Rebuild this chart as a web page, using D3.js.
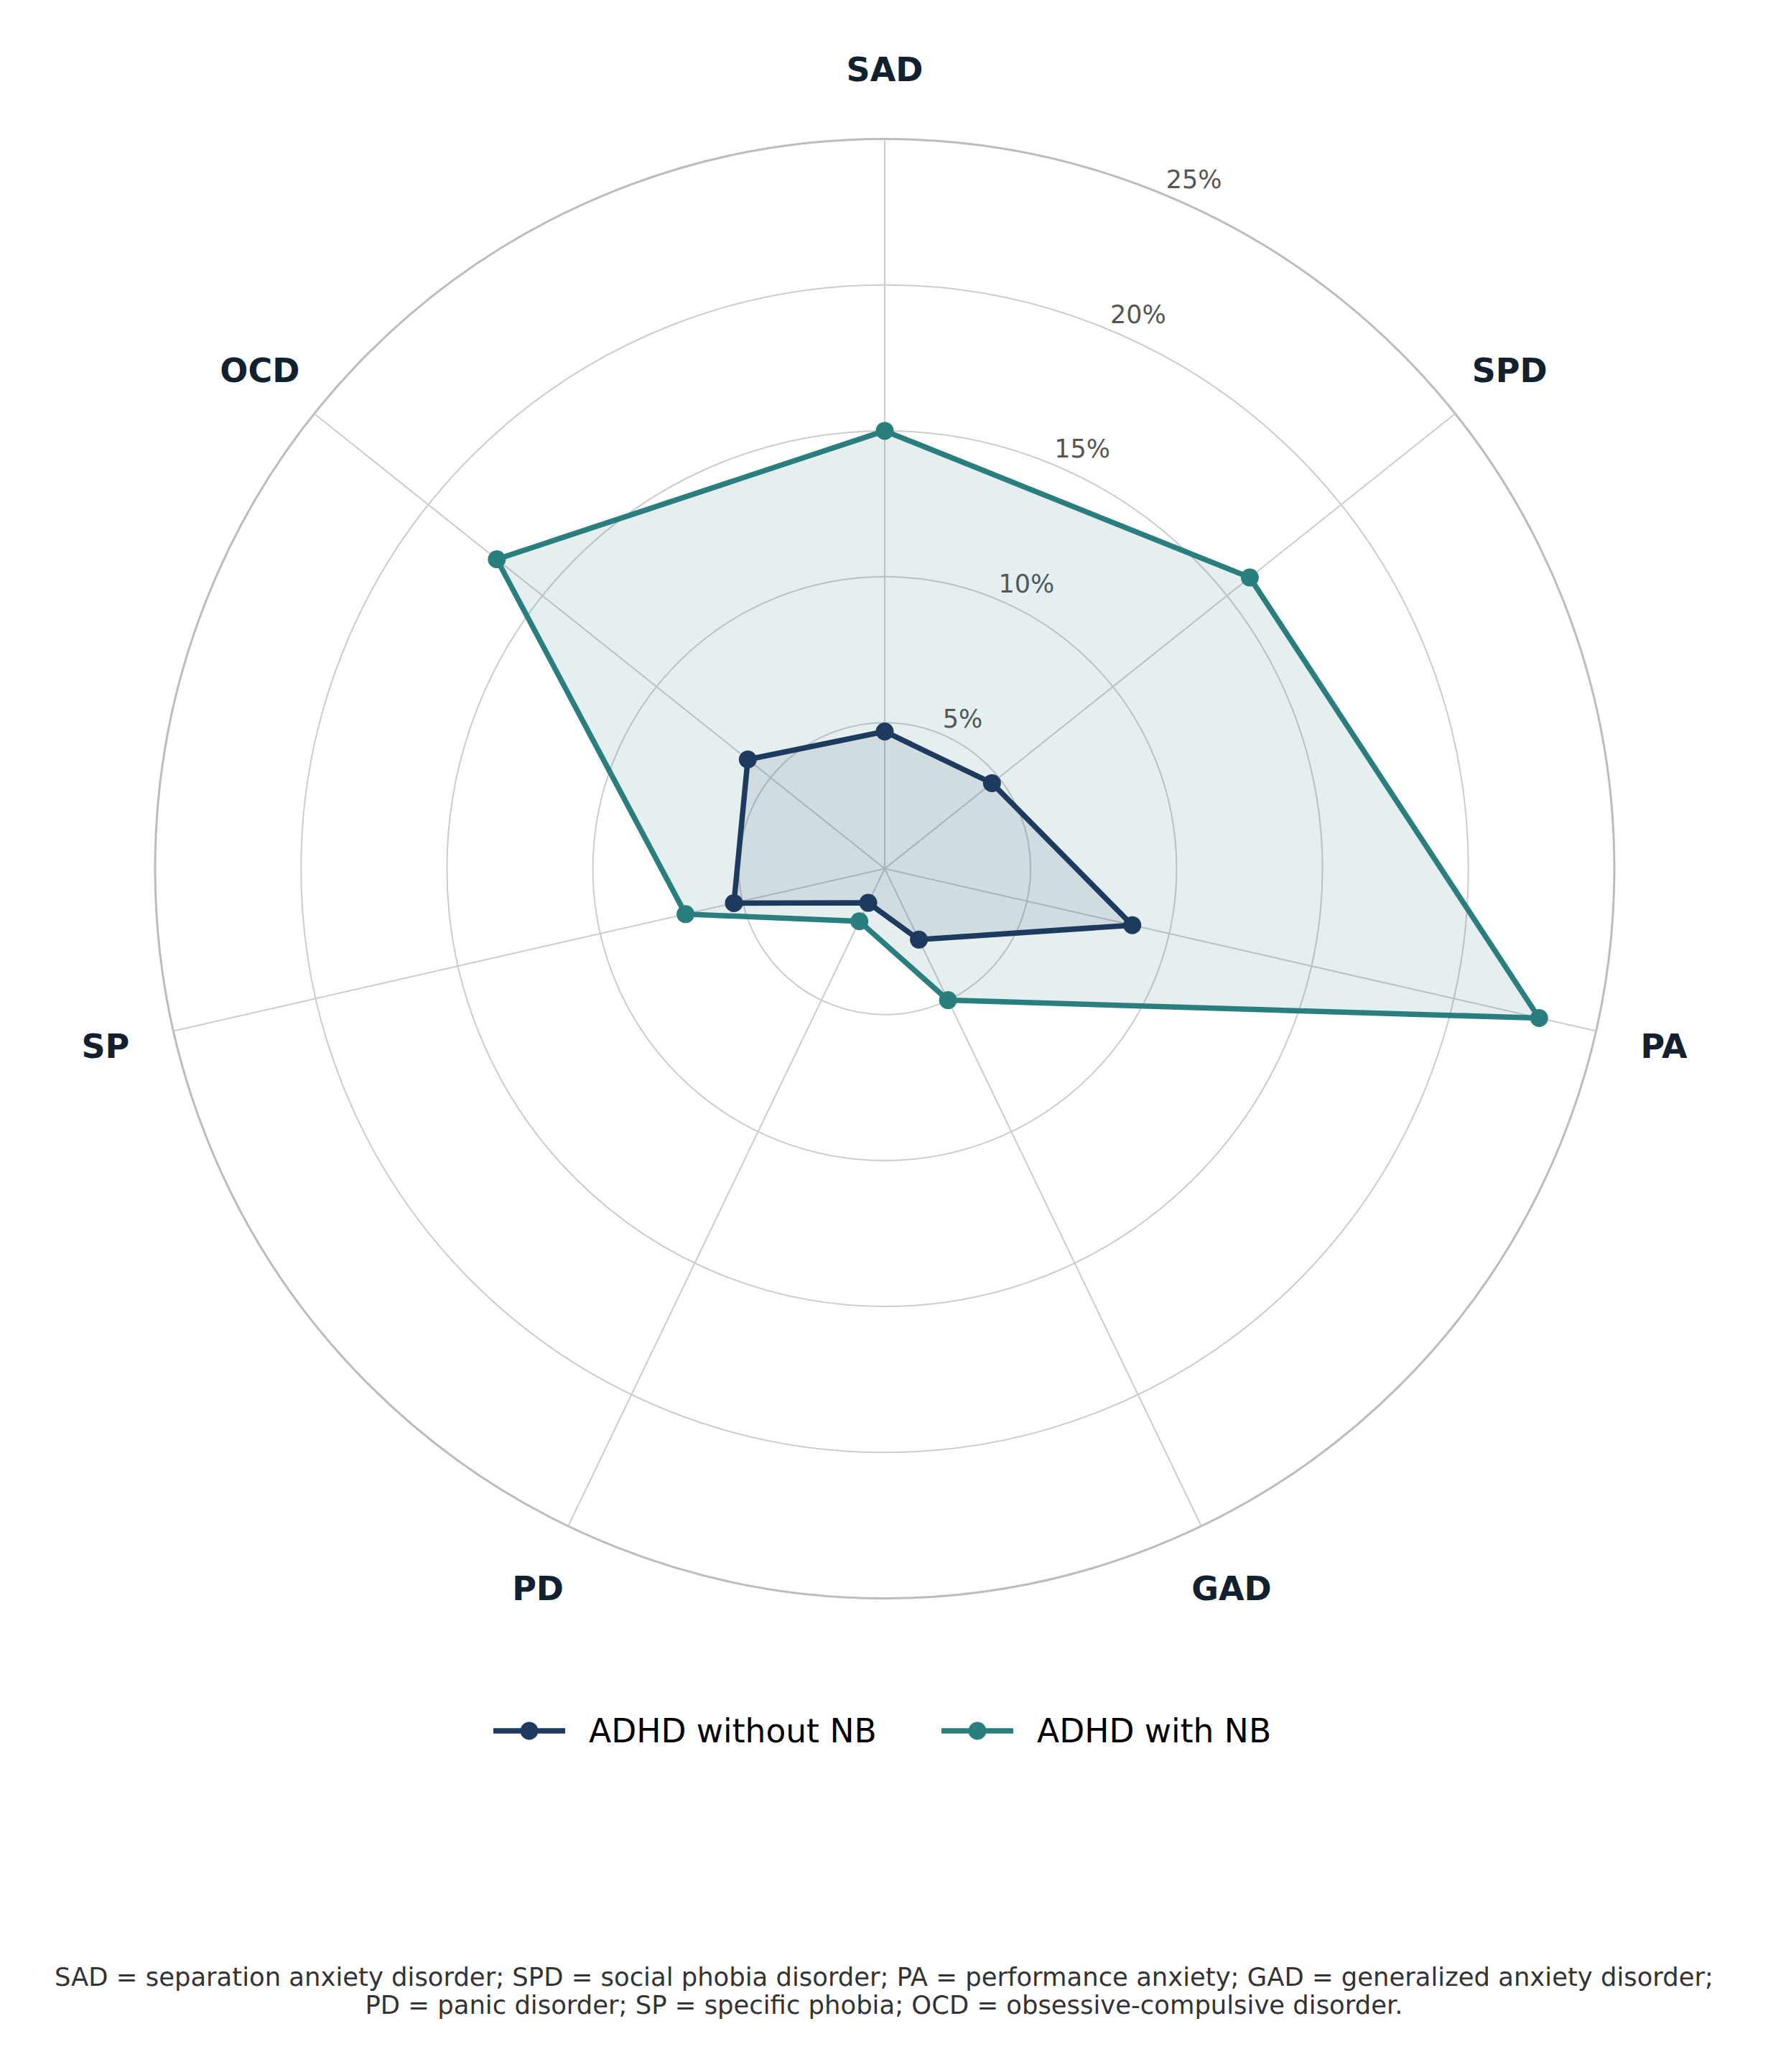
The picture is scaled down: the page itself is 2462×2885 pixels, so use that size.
<!DOCTYPE html>
<html>
<head>
<meta charset="utf-8">
<script src="https://cdn.jsdelivr.net/npm/d3@7"></script>
<style>
  body { margin: 0; background: #fff; }
  text { font-family: "DejaVu Sans", sans-serif; }
</style>
</head>
<body>
<div class="radar"></div>
<script>
// Data
const categories = ["SAD", "SPD", "PA", "GAD", "PD", "SP", "OCD"];
const withoutNB = [4.7, 4.7, 8.7, 2.7, 1.3, 5.3, 6.0];
const withNB = [15.0, 16.0, 23.0, 5.0, 2.0, 7.0, 17.0];
const tickValues = [5, 10, 15, 20, 25];
const seriesNames = ["ADHD without NB", "ADHD with NB"];
const footnoteLines = [
    "SAD = separation anxiety disorder; SPD = social phobia disorder; PA = performance anxiety; GAD = generalized anxiety disorder;",
    "PD = panic disorder; SP = specific phobia; OCD = obsessive-compulsive disorder."
];

// Size of the page
let width = 2462;
let height = 2885;
let center = { x: 1232, y: 1209.5 };
let outerRadius = 1016;

const colors = { without: "#1f3a5f", with: "#2a7f7e" };

let svg = d3.select(".radar").append("svg")
    .attr("width", width)
    .attr("height", height)
    .attr("viewBox", `0 0 ${width} ${height}`);

// Radius scale and angle scale
const rScale = d3.scaleLinear()
    .domain([0, 25])
    .range([0, outerRadius]);

const angleScale = d3.scaleLinear()
    .domain([0, categories.length])
    .range([0, 2 * Math.PI]);

const chart = svg.append("g")
    .attr("transform", `translate(${center.x}, ${center.y})`);

// Grid circles
chart.selectAll(".grid-circle")
    .data(tickValues)
    .enter()
    .append("circle")
    .attr("class", "grid-circle")
    .attr("r", d => rScale(d))
    .attr("fill", "none")
    .attr("stroke", d => d === 25 ? "#bcbcbc" : "#cccccc")
    .attr("stroke-width", d => d === 25 ? 3 : 2);

// Spokes
chart.selectAll(".spoke")
    .data(categories)
    .enter()
    .append("line")
    .attr("class", "spoke")
    .attr("x1", 0)
    .attr("y1", 0)
    .attr("x2", (d, i) => rScale(25) * Math.sin(angleScale(i)))
    .attr("y2", (d, i) => -rScale(25) * Math.cos(angleScale(i)))
    .attr("stroke", "#cccccc")
    .attr("stroke-width", 2);

// Tick labels at 22.5 degrees
let labelAngle = 22.5 * Math.PI / 180;
chart.selectAll(".tick-label")
    .data(tickValues)
    .enter()
    .append("text")
    .attr("class", "tick-label")
    .attr("x", d => rScale(d) * Math.sin(labelAngle) + 3)
    .attr("y", d => -rScale(d) * Math.cos(labelAngle) - 9)
    .attr("font-size", 35)
    .attr("fill", "#555555")
    .text(d => d + "%");

// Radial line generator
const radarLine = d3.lineRadial()
    .angle((d, i) => angleScale(i))
    .radius(d => rScale(d))
    .curve(d3.curveLinearClosed);

// Function to draw one series
function drawSeries(values, color, fillOpacity) {
    chart.append("path")
        .datum(values)
        .attr("d", radarLine)
        .attr("fill", color)
        .attr("fill-opacity", fillOpacity)
        .attr("stroke", color)
        .attr("stroke-width", 7.5)
        .attr("stroke-linejoin", "round");

    chart.selectAll(null)
        .data(values)
        .enter()
        .append("circle")
        .attr("cx", (d, i) => rScale(d) * Math.sin(angleScale(i)))
        .attr("cy", (d, i) => -rScale(d) * Math.cos(angleScale(i)))
        .attr("r", 12.5)
        .attr("fill", color);
}

drawSeries(withNB, colors.with, 0.12);
drawSeries(withoutNB, colors.without, 0.1);

// Category labels
let labelRadius = 1113;
chart.selectAll(".cat-label")
    .data(categories)
    .enter()
    .append("text")
    .attr("class", "cat-label")
    .attr("x", (d, i) => labelRadius * Math.sin(angleScale(i)))
    .attr("y", (d, i) => -labelRadius * Math.cos(angleScale(i)))
    .attr("text-anchor", "middle")
    .attr("dominant-baseline", "central")
    .attr("font-size", 46)
    .attr("font-weight", "bold")
    .attr("fill", "#13202f")
    .text(d => d);

// Legend
let legendItems = [
    { name: seriesNames[0], color: colors.without, x: 687 },
    { name: seriesNames[1], color: colors.with, x: 1311 }
];
let legend = svg.append("g")
    .attr("transform", "translate(0, 2410)");

let item = legend.selectAll(".legend-item")
    .data(legendItems)
    .enter()
    .append("g")
    .attr("class", "legend-item")
    .attr("transform", d => `translate(${d.x}, 0)`);

item.append("line")
    .attr("x1", 0)
    .attr("x2", 100)
    .attr("stroke", d => d.color)
    .attr("stroke-width", 7.5);

item.append("circle")
    .attr("cx", 50)
    .attr("r", 12.5)
    .attr("fill", d => d.color);

item.append("text")
    .attr("x", 133)
    .attr("dominant-baseline", "central")
    .attr("font-size", 45.5)
    .attr("fill", "#000000")
    .text(d => d.name);

// Footnote
svg.append("text")
    .attr("x", width / 2)
    .attr("y", 2765)
    .attr("text-anchor", "middle")
    .attr("font-size", 35.4)
    .attr("fill", "#333333")
    .selectAll("tspan")
    .data(footnoteLines)
    .enter()
    .append("tspan")
    .attr("x", width / 2)
    .attr("dy", (d, i) => i === 0 ? 0 : 39)
    .text(d => d);
</script>
</body>
</html>
